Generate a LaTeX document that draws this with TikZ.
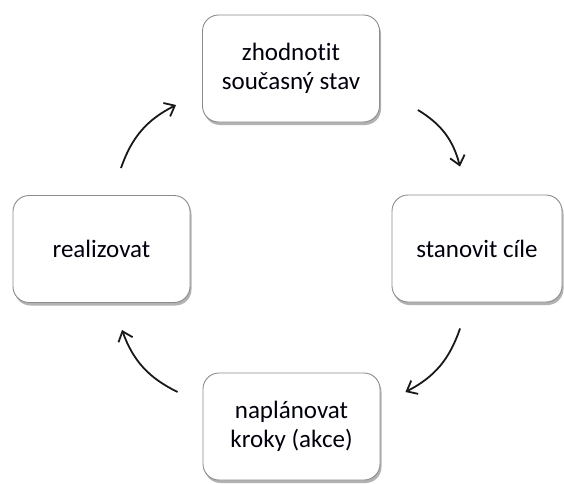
\documentclass[tikz,border=0pt]{standalone}
\usepackage{fontspec}
\setmainfont[Ligatures=NoCommon]{Carlito}
\usepackage{tikz}
\usetikzlibrary{positioning,calc,shadows,arrows.meta}

\begin{document}
\begin{tikzpicture}[x=1pt,y=1pt]
\tikzstyle{step box}=[rectangle, rounded corners=16pt, draw=black!45, line width=0.9pt, fill=white,
  minimum width=177pt, minimum height=107pt, inner sep=0pt, align=center, text=black!95!blue,
  font=\fontsize{25}{29}\selectfont,
  drop shadow={shadow xshift=1.5pt, shadow yshift=-3pt, opacity=0.55, fill=black!55}]
\tikzstyle{connect}=[-{Straight Barb[length=9pt,width=15pt,line width=1.8pt]}, line width=1.8pt, black!90, bend left=22]
\useasboundingbox (0,0) rectangle (564,483);
	\node[step box] (top) at (291,414.5) {zhodnotit\\současný stav};
	\node[step box, minimum width=170pt] (right) at (477,234.5) {stanovit cíle};
	\node[step box] (bottom) at (291.5,56.5) {naplánovat\\kroky (akce)};
	\node[step box] (left) at (101.5,234) {realizovat};

	\path
		($(left.north)+(19.5,27)$) edge [connect] ($(top.west)+(-26,-36.5)$)
		($(top.east)+(38,-41.5)$) edge [connect] ($(right.north)+(-17,28)$)
		($(right.south)+(-17,-26)$) edge [connect] ($(bottom.east)+(25,34.5)$)
		($(bottom.west)+(-25,34.5)$) edge [connect] ($(left.south)+(20.5,-27)$);

\end{tikzpicture}
\end{document}
